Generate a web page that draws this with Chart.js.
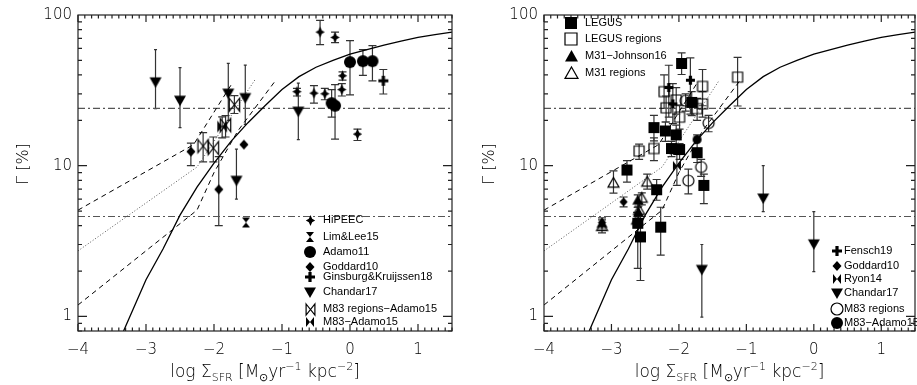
<!DOCTYPE html>
<html>
<head>
<meta charset="utf-8">
<script src="https://cdn.jsdelivr.net/npm/chart.js@4.4.1/dist/chart.umd.min.js"></script>
<style>
  html, body { margin: 0; padding: 0; background: #fff; overflow: hidden; }
  .panel { position: absolute; top: 0; height: 385px; }
  #leftBox { left: 0; width: 458px; }
  #rightBox { left: 458px; width: 463px; }
</style>
</head>
<body>
<div class="panel" id="leftBox"><canvas id="leftChart"></canvas></div>
<div class="panel" id="rightBox"><canvas id="rightChart"></canvas></div>
<script>
// axis ticks
const xTicks = [-4, -3, -2, -1, 0, 1];
const yTicks = [1, 10, 100];

// model curves (same in both panels)
const modelX = [-3.33, -3.0, -2.75, -2.5, -2.25, -2.0, -1.75, -1.5, -1.25, -1.0, -0.75, -0.5, -0.25, 0.0, 0.25, 0.5, 0.75, 1.0, 1.25, 1.5];
const modelY = [0.8, 1.75, 2.8, 4.7, 7.2, 10.4, 14.5, 19.3, 25, 32, 39, 45, 50, 55, 59, 63, 67, 71, 74, 77];
const upperDashX = [-4, -2.3, -1.72];
const upperDashY = [5.07, 13.8, 36];
const lowerDashX = [-4, -2.25, -2.0, -1.65, -1.09];
const lowerDashY = [1.19, 5.07, 9.0, 17, 37];
const dottedX = [-4, -2.25, -1.4];
const dottedY = [2.72, 9.8, 37];
const hLineX = [-4, 1.5];
const hUpperY = [24, 24];
const hLowerY = [4.6, 4.6];

// left panel
const hipeecX = [-0.44, -0.22, -0.11, -0.12, -0.78, -0.53, -0.37, 0.11];
const hipeecY = [77, 71, 39.5, 32, 31, 30.3, 30, 16.2];
const hipeecLo = [63.5, 65.5, 37, 29, 29, 26, 27.4, 14.7];
const hipeecHi = [92, 77, 42, 35, 32.6, 34, 32.6, 17.5];

const limLeeX = [-1.53];
const limLeeY = [4.2];

const adamo11X = [0.0, 0.19, 0.33, -0.27, -0.22];
const adamo11Y = [48.7, 49.4, 49.4, 26, 25];
const adamo11Lo = [29.5, 39.8, 36.6, 21, 15];
const adamo11Hi = [67.7, 58.9, 62.6, 32, 34.5];

const goddardLX = [-2.34, -1.56, -1.93];
const goddardLY = [12.4, 13.8, 6.96];
const goddardLLo = [10, null, 4.0];
const goddardLHi = [14.1, null, 11.5];

const ginsburgX = [0.49];
const ginsburgY = [36.6];
const ginsburgLo = [29.9];
const ginsburgHi = [43.5];

const chandarLX = [-2.86, -2.5, -1.79, -1.54, -1.67, -0.76];
const chandarLY = [36, 27.2, 30.3, 28.3, 8.0, 23];
const chandarLLo = [23.9, 17.9, 20, 18.8, 6.0, 14.9];
const chandarLHi = [59, 44.7, 47.7, 46.5, 12.9, 35.3];

const m83RegLX = [-2.16, -2.01, -1.70, -1.83];
const m83RegLY = [13.5, 13.1, 25.4, 18.6];
const m83RegLLo = [10.6, 10.6, 22.2, 15.5];
const m83RegLHi = [16.6, 15.5, 29.2, 21.5];

const m83AdLX = [-1.88];
const m83AdLY = [18.2];
const m83AdLLo = [15.3];
const m83AdLHi = [21.1];

// right panel
const legusX = [-1.96, -1.81, -2.37, -2.20, -2.04, -2.11, -1.99, -1.73, -2.77, -2.33, -1.63, -2.61, -2.57, -2.27];
const legusY = [47.7, 26.3, 17.9, 17.0, 16.0, 13.0, 12.8, 12.2, 9.36, 6.93, 7.4, 4.15, 3.37, 3.91];
const legusLo = [40.3, 21.5, 14.6, 14.5, 13.8, 11.5, 11, 10.5, 7.77, 5.9, 5.6, 2.08, 1.73, 2.55];
const legusHi = [56, 31, 21.6, 19.5, 18.6, 14.5, 14, 16, 10.8, 8.1, 8.8, 5.3, 4.6, 5.3];

const legusRegX = [-1.13, -1.65, -2.22, -2.04, -2.19, -1.99, -1.65, -1.73, -2.59, -2.37];
const legusRegY = [38.7, 33.6, 31, 27.3, 24.2, 21, 25.7, 23.9, 12.5, 13.0];
const legusRegLo = [24.9, 25, 24, 22, 19.5, 17.5, 21, 20, 11, 10.8];
const legusRegHi = [52.3, 43.5, 40, 33, 29, 25, 31, 28, 13.9, 15.3];

const m31JX = [-2.61, -2.60, -3.14];
const m31JY = [5.9, 4.9, 4.15];
const m31JLo = [5.3, 4.4, 3.8];
const m31JHi = [6.4, 5.4, 4.5];

const m31RegX = [-2.97, -2.47, -2.55, -2.59, -2.62, -3.14];
const m31RegY = [7.68, 7.8, 6.1, 5.07, 4.37, 3.96];
const m31RegLo = [6.58, 7.0, 5.5, 4.6, 3.9, 3.58];
const m31RegHi = [9.25, 8.8, 6.6, 5.6, 4.9, 4.37];

const goddardRX = [-2.82, -3.14];
const goddardRY = [5.75, 4.2];
const goddardRLo = [5.33, null];
const goddardRHi = [6.2, null];

const fenschX = [-1.83, -2.15, -2.09];
const fenschY = [36.9, 33, 25.7];
const fenschLo = [22, 21, 19];
const fenschHi = [51.9, 46.4, 35];

const ryonX = [-2.03];
const ryonY = [9.98];
const ryonLo = [7.4];
const ryonHi = [11.9];

const chandarRX = [-0.75, -1.66, 0.0];
const chandarRY = [6.1, 2.05, 3.03];
const chandarRLo = [4.95, 0.99, 1.98];
const chandarRHi = [10, 3.0, 4.95];

const m83RegRX = [-1.56, -1.86, -1.67, -1.90];
const m83RegRY = [19.2, 7.96, 9.8, 27];
const m83RegRLo = [16.8, 6.5, 8.5, 23];
const m83RegRHi = [21.6, 9.5, 11, 30];

const m83AdRX = [-1.73];
const m83AdRY = [14.9];

const tickFont = { family: "'DejaVu Sans', sans-serif", size: 15, weight: "200" };

// marker pictures used as point styles
function marker(shape, r, filled) {
  const lw = 1.2;
  const s = Math.ceil(2 * r + 6);
  const c = document.createElement("canvas");
  c.width = s;
  c.height = s;
  const g = c.getContext("2d");
  g.translate(s / 2, s / 2);
  g.lineWidth = lw;
  g.strokeStyle = "#000";
  g.fillStyle = "#000";
  g.beginPath();
  if (shape === "circle") {
    g.arc(0, 0, r, 0, Math.PI * 2);
  } else if (shape === "square") {
    g.rect(-r, -r, 2 * r, 2 * r);
  } else if (shape === "diamond") {
    g.moveTo(0, -r); g.lineTo(r * 0.9, 0); g.lineTo(0, r); g.lineTo(-r * 0.9, 0); g.closePath();
  } else if (shape === "triUp") {
    g.moveTo(0, -r); g.lineTo(r, r * 0.75); g.lineTo(-r, r * 0.75); g.closePath();
  } else if (shape === "triDown") {
    g.moveTo(0, r); g.lineTo(r, -r * 0.75); g.lineTo(-r, -r * 0.75); g.closePath();
  } else if (shape === "star4") {
    const k = r * 0.3;
    g.moveTo(0, -r); g.lineTo(k, -k); g.lineTo(r * 0.85, 0); g.lineTo(k, k);
    g.lineTo(0, r); g.lineTo(-k, k); g.lineTo(-r * 0.85, 0); g.lineTo(-k, -k); g.closePath();
  } else if (shape === "hourglass") {
    g.moveTo(-r * 0.8, -r); g.lineTo(r * 0.8, -r); g.lineTo(-r * 0.8, r); g.lineTo(r * 0.8, r); g.closePath();
  } else if (shape === "bowtie") {
    g.moveTo(-r * 0.8, -r); g.lineTo(r * 0.8, r); g.lineTo(r * 0.8, -r); g.lineTo(-r * 0.8, r); g.closePath();
  } else if (shape === "plus") {
    g.lineWidth = 3.2;
    g.moveTo(-r, 0); g.lineTo(r, 0); g.moveTo(0, -r); g.lineTo(0, r);
    g.stroke();
    return c;
  }
  if (filled) g.fill(); else g.stroke();
  return c;
}

const M = {
  star: marker("star4", 5.5, true),
  hourglass: marker("hourglass", 5, true),
  circle: marker("circle", 6, true),
  diamond: marker("diamond", 5, true),
  plus: marker("plus", 5),
  triDown: marker("triDown", 6, true),
  bowOpen: marker("bowtie", 6.5, false),
  bowFill: marker("bowtie", 6, true),
  sqFill: marker("square", 5.5, true),
  sqOpen: marker("square", 5, false),
  triFill: marker("triUp", 5.5, true),
  triOpen: marker("triUp", 5.5, false),
  diamondR: marker("diamond", 4.5, true),
  plusR: marker("plus", 4.5),
  bowFillR: marker("bowtie", 5, true),
  circOpen: marker("circle", 5.5, false),
  circFillR: marker("circle", 4.5, true),
  lgCircOpen: marker("circle", 6, false),
  lgCircFill: marker("circle", 6, true),
  lgSqFill: marker("square", 6, true),
  lgSqOpen: marker("square", 6, false),
  lgTriFill: marker("triUp", 6.5, true),
  lgTriOpen: marker("triUp", 6.5, false),
  lgBowOpen: marker("bowtie", 5.5, false),
  lgBowFill: marker("bowtie", 5, true)
};

function pts(xs, ys) {
  return xs.map((x, i) => ({ x, y: ys[i] }));
}

function series(label, xs, ys, lo, hi, style, cap) {
  return {
    label,
    data: pts(xs, ys),
    errLo: lo,
    errHi: hi,
    errCap: cap === undefined ? 4 : cap,
    pointStyle: style,
    pointRadius: 5,
    showLine: false,
    order: 0
  };
}

function curve(xs, ys, dash, color, width) {
  return {
    data: pts(xs, ys),
    showLine: true,
    pointRadius: 0,
    borderColor: color,
    borderWidth: width,
    borderDash: dash,
    fill: false,
    tension: 0,
    order: 5
  };
}

function modelCurves() {
  return [
    curve(modelX, modelY, [], "#000", 1.3),
    curve(upperDashX, upperDashY, [5, 4], "#000", 1),
    curve(lowerDashX, lowerDashY, [5, 4], "#000", 1),
    curve(dottedX, dottedY, [1, 2], "#555", 1),
    curve(hLineX, hUpperY, [7, 3, 2, 3], "#555", 1.2),
    curve(hLineX, hLowerY, [7, 3, 2, 3], "#555", 1.2)
  ];
}

const errorBars = {
  id: "errorBars",
  beforeDatasetsDraw(chart) {
    const { ctx, chartArea, scales } = chart;
    ctx.save();
    ctx.beginPath();
    ctx.rect(chartArea.left, chartArea.top, chartArea.width, chartArea.height);
    ctx.clip();
    ctx.strokeStyle = "#333";
    ctx.lineWidth = 1.2;
    chart.data.datasets.forEach(ds => {
      if (!ds.errLo) return;
      const cap = ds.errCap;
      ds.data.forEach((p, i) => {
        const lo = ds.errLo[i], hi = ds.errHi[i];
        if (lo == null || hi == null) return;
        const x = scales.x.getPixelForValue(p.x);
        const y1 = scales.y.getPixelForValue(lo);
        const y2 = scales.y.getPixelForValue(hi);
        ctx.beginPath();
        ctx.moveTo(x, y1); ctx.lineTo(x, y2);
        ctx.moveTo(x - cap, y1); ctx.lineTo(x + cap, y1);
        ctx.moveTo(x - cap, y2); ctx.lineTo(x + cap, y2);
        ctx.stroke();
      });
    });
    ctx.restore();
  }
};

// box with inward ticks on all four sides, axis titles, legend
const idlFrame = {
  id: "idlFrame",
  afterDraw(chart, args, opts) {
    const { ctx, chartArea: a, scales } = chart;
    ctx.save();
    ctx.strokeStyle = "#222";
    ctx.lineWidth = 1.2;
    ctx.strokeRect(a.left, a.top, a.width, a.height);
    ctx.beginPath();
    for (let k = -40; k <= 15; k++) {
      const x = scales.x.getPixelForValue(k / 10);
      const len = k % 10 === 0 ? 7 : 3.5;
      ctx.moveTo(x, a.bottom); ctx.lineTo(x, a.bottom - len);
      ctx.moveTo(x, a.top); ctx.lineTo(x, a.top + len);
    }
    [0.1, 1, 10].forEach(d => {
      for (let m = 1; m <= 9; m++) {
        const v = m * d;
        if (v < 0.8 || v > 100) continue;
        const y = scales.y.getPixelForValue(v);
        const len = m === 1 ? 9 : 4;
        ctx.moveTo(a.left, y); ctx.lineTo(a.left + len, y);
        ctx.moveTo(a.right, y); ctx.lineTo(a.right - len, y);
      }
    });
    ctx.stroke();

    // x title
    ctx.fillStyle = "#000";
    ctx.textBaseline = "alphabetic";
    const big = "200 17px 'DejaVu Sans', sans-serif";
    const small = "200 11px 'DejaVu Sans', sans-serif";
    const parts = [
      ["log ", big, 0], ["Σ", big, 0], ["SFR", small, 4], [" [M", big, 0], ["⊙", small, 4],
      ["yr", big, 0], ["−1", small, -7], [" kpc", big, 0], ["−2", small, -7], ["]", big, 0]
    ];
    let w = 0;
    parts.forEach(p => { ctx.font = p[1]; w += ctx.measureText(p[0]).width; });
    let x = (a.left + a.right) / 2 - w / 2;
    const base = 377;
    parts.forEach(p => {
      ctx.font = p[1];
      ctx.fillText(p[0], x, base + p[2]);
      x += ctx.measureText(p[0]).width;
    });

    // y title
    ctx.save();
    ctx.translate(a.left - 54, 164);
    ctx.rotate(-Math.PI / 2);
    ctx.font = "200 16px 'DejaVu Sans', sans-serif";
    ctx.textAlign = "center";
    ctx.textBaseline = "middle";
    ctx.fillText("Γ [%]", 0, 0);
    ctx.restore();

    // legend
    ctx.font = "11px 'Liberation Sans', Arial, sans-serif";
    ctx.textBaseline = "middle";
    ctx.textAlign = "left";
    (opts.entries || []).forEach(e => {
      ctx.drawImage(e.m, Math.round(e.x - e.m.width / 2), Math.round(e.y - e.m.height / 2));
      ctx.fillText(e.label, e.tx, e.y);
    });
    ctx.restore();
  }
};

function makeChart(id, datasets, yWidth, padRight, entries) {
  return new Chart(document.getElementById(id), {
    type: "scatter",
    data: { datasets },
    options: {
      responsive: true,
      maintainAspectRatio: false,
      animation: false,
      events: [],
      layout: { padding: { top: 7, right: padRight, left: 0, bottom: 0 } },
      plugins: {
        legend: { display: false },
        tooltip: { enabled: false },
        idlFrame: { entries }
      },
      scales: {
        x: {
          type: "linear",
          min: -4,
          max: 1.5,
          afterBuildTicks: s => { s.ticks = xTicks.map(v => ({ value: v })); },
          afterFit: s => { s.height = 54; },
          grid: { display: false, drawTicks: false },
          border: { display: false },
          ticks: {
            font: tickFont,
            color: "#000",
            padding: 10,
            maxRotation: 0,
            autoSkip: false,
            callback: v => String(v).replace("-", "−")
          }
        },
        y: {
          type: "logarithmic",
          min: 0.8,
          max: 100,
          afterBuildTicks: s => { s.ticks = yTicks.map(v => ({ value: v })); },
          afterFit: s => { s.width = yWidth; },
          grid: { display: false, drawTicks: false },
          border: { display: false },
          ticks: {
            font: tickFont,
            color: "#000",
            padding: 6,
            callback: v => String(v)
          }
        }
      }
    },
    plugins: [errorBars, idlFrame]
  });
}

makeChart("leftChart", [
  series("HiPEEC", hipeecX, hipeecY, hipeecLo, hipeecHi, M.star),
  series("Lim&Lee15", limLeeX, limLeeY, null, null, M.hourglass),
  series("Adamo11", adamo11X, adamo11Y, adamo11Lo, adamo11Hi, M.circle),
  series("Goddard10", goddardLX, goddardLY, goddardLLo, goddardLHi, M.diamond),
  series("Ginsburg&Kruijssen18", ginsburgX, ginsburgY, ginsburgLo, ginsburgHi, M.plus),
  series("Chandar17", chandarLX, chandarLY, chandarLLo, chandarLHi, M.triDown, 1.5),
  series("M83 regions-Adamo15", m83RegLX, m83RegLY, m83RegLLo, m83RegLHi, M.bowOpen),
  series("M83-Adamo15", m83AdLX, m83AdLY, m83AdLLo, m83AdLHi, M.bowFill),
  ...modelCurves()
], 78, 6, [
  { m: M.star, label: "HiPEEC", x: 310, tx: 323, y: 220 },
  { m: M.hourglass, label: "Lim&Lee15", x: 310, tx: 323, y: 237 },
  { m: M.lgCircFill, label: "Adamo11", x: 310, tx: 323, y: 252 },
  { m: M.diamond, label: "Goddard10", x: 310, tx: 323, y: 267 },
  { m: M.plus, label: "Ginsburg&Kruijssen18", x: 310, tx: 323, y: 277 },
  { m: M.triDown, label: "Chandar17", x: 310, tx: 323, y: 292 },
  { m: M.lgBowOpen, label: "M83 regions−Adamo15", x: 310, tx: 323, y: 309 },
  { m: M.lgBowFill, label: "M83−Adamo15", x: 310, tx: 323, y: 322 }
]);

makeChart("rightChart", [
  series("LEGUS", legusX, legusY, legusLo, legusHi, M.sqFill),
  series("LEGUS regions", legusRegX, legusRegY, legusRegLo, legusRegHi, M.sqOpen),
  series("M31-Johnson16", m31JX, m31JY, m31JLo, m31JHi, M.triFill),
  series("M31 regions", m31RegX, m31RegY, m31RegLo, m31RegHi, M.triOpen),
  series("Fensch19", fenschX, fenschY, fenschLo, fenschHi, M.plusR),
  series("Goddard10", goddardRX, goddardRY, goddardRLo, goddardRHi, M.diamondR),
  series("Ryon14", ryonX, ryonY, ryonLo, ryonHi, M.bowFillR),
  series("Chandar17", chandarRX, chandarRY, chandarRLo, chandarRHi, M.triDown, 1.5),
  series("M83 regions", m83RegRX, m83RegRY, m83RegRLo, m83RegRHi, M.circOpen),
  series("M83-Adamo15", m83AdRX, m83AdRY, null, null, M.circFillR),
  ...modelCurves()
], 86, 2, [
  { m: M.lgSqFill, label: "LEGUS", x: 113, tx: 127, y: 23 },
  { m: M.lgSqOpen, label: "LEGUS regions", x: 113, tx: 127, y: 39 },
  { m: M.lgTriFill, label: "M31−Johnson16", x: 113, tx: 127, y: 56 },
  { m: M.lgTriOpen, label: "M31 regions", x: 113, tx: 127, y: 73 },
  { m: M.plus, label: "Fensch19", x: 379, tx: 386, y: 251 },
  { m: M.diamond, label: "Goddard10", x: 379, tx: 386, y: 266 },
  { m: M.lgBowFill, label: "Ryon14", x: 379, tx: 386, y: 279 },
  { m: M.triDown, label: "Chandar17", x: 379, tx: 386, y: 293 },
  { m: M.lgCircOpen, label: "M83 regions", x: 379, tx: 386, y: 309 },
  { m: M.lgCircFill, label: "M83−Adamo15", x: 379, tx: 386, y: 323 }
]);
</script>
</body>
</html>
